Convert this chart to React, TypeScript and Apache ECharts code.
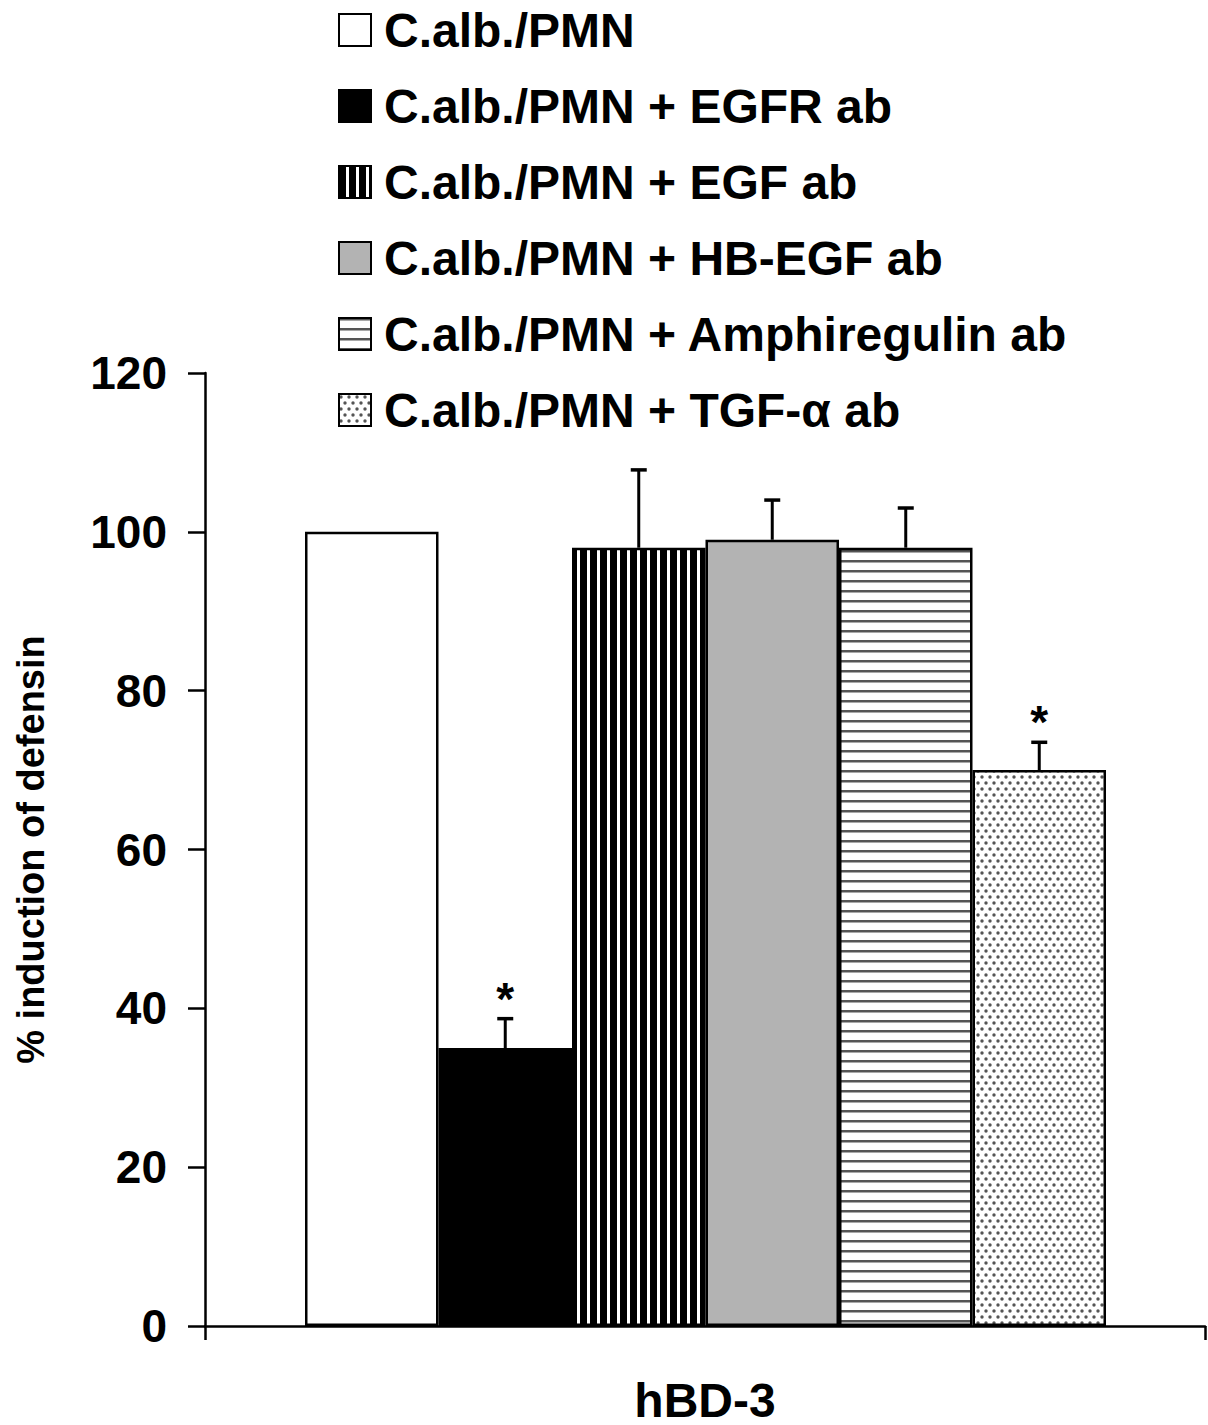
import React, { useEffect, useRef } from "react";
import * as echarts from "echarts";

const groupNames = [
  "C.alb./PMN",
  "C.alb./PMN + EGFR ab",
  "C.alb./PMN + EGF ab",
  "C.alb./PMN + HB-EGF ab",
  "C.alb./PMN + Amphiregulin ab",
  "C.alb./PMN + TGF-\u03b1 ab",
];
const categoryLabels = ["hBD-3"];
const meanValues = [100, 35, 98, 99, 98, 70];
const errorTops = [100, 38.7, 107.8, 104, 103, 73.5];
const significance = ["", "*", "", "", "", "*"];
const yTicks = { min: 0, max: 120, interval: 20 };
const yAxisTitle = "% induction of defensin";

const FONT = "'Liberation Sans', Arial, Helvetica, sans-serif";

function makePattern(w: number, h: number, draw: (ctx: CanvasRenderingContext2D) => void) {
  const c = document.createElement("canvas");
  c.width = w;
  c.height = h;
  const ctx = c.getContext("2d")!;
  ctx.fillStyle = "#ffffff";
  ctx.fillRect(0, 0, w, h);
  draw(ctx);
  return { image: c, repeat: "repeat", imageWidth: w, imageHeight: h } as any;
}

export default function App() {
  const ref = useRef<HTMLDivElement>(null);

  useEffect(() => {
    document.body.style.margin = "0";
    const chart = echarts.init(ref.current!, undefined, { renderer: "svg" });

    const vStripes = makePattern(10, 10, (ctx) => {
      ctx.fillStyle = "#000";
      ctx.fillRect(0, 0, 7, 10);
    });
    const hStripes = makePattern(10, 10, (ctx) => {
      ctx.fillStyle = "#555";
      ctx.fillRect(0, 0, 10, 2.5);
    });
    const dots = makePattern(8, 12, (ctx) => {
      ctx.fillStyle = "#555";
      ctx.beginPath();
      ctx.arc(2, 3, 1.7, 0, Math.PI * 2);
      ctx.fill();
      ctx.beginPath();
      ctx.arc(6, 9, 1.7, 0, Math.PI * 2);
      ctx.fill();
    });
    const fills: any[] = ["#ffffff", "#000000", vStripes, "#b3b3b3", hStripes, dots];

    const barSeries = groupNames.map((name, i) => ({
      name,
      type: "bar",
      xAxisIndex: 1,
      yAxisIndex: 1,
      stack: "all",
      barCategoryGap: 0,
      data: meanValues.map((v, j) => (j === i ? v : "-")),
      itemStyle: { color: fills[i], borderColor: "#000", borderWidth: 2.5 },
      emphasis: { disabled: true },
    }));

    const errorData = meanValues.map((v, i) => [i, v, errorTops[i]]);

    const option: any = {
      animation: false,
      backgroundColor: "#ffffff",
      textStyle: { fontFamily: FONT },
      legend: {
        orient: "vertical",
        left: 333,
        top: 1,
        itemWidth: 32,
        itemHeight: 32,
        itemGap: 28,
        icon: "rect",
        selectedMode: false,
        data: groupNames,
        textStyle: {
          fontFamily: FONT,
          fontSize: 48,
          fontWeight: "bold",
          color: "#000",
          lineHeight: 48,
          padding: [0, 0, 0, 8],
        },
      },
      grid: [
        { left: 205, right: 3, top: 373, bottom: 99 },
        { left: 305, right: 102, top: 373, bottom: 99 },
      ],
      xAxis: [
        {
          type: "category",
          gridIndex: 0,
          data: categoryLabels,
          axisLine: { lineStyle: { color: "#000", width: 2.5 } },
          axisTick: { show: true, length: 14, lineStyle: { color: "#000", width: 2.5 } },
          axisLabel: {
            fontFamily: FONT,
            fontSize: 48,
            fontWeight: "bold",
            color: "#000",
            margin: 50,
          },
        },
        {
          type: "category",
          gridIndex: 1,
          data: groupNames,
          show: false,
        },
      ],
      yAxis: [
        {
          type: "value",
          gridIndex: 0,
          min: yTicks.min,
          max: yTicks.max,
          interval: yTicks.interval,
          name: yAxisTitle,
          nameLocation: "middle",
          nameGap: 155,
          nameTextStyle: { fontFamily: FONT, fontSize: 38, fontWeight: "bold", color: "#000" },
          axisLine: { show: true, lineStyle: { color: "#000", width: 2.5 } },
          axisTick: { show: true, length: 17, lineStyle: { color: "#000", width: 2.5 } },
          axisLabel: {
            fontFamily: FONT,
            fontSize: 46,
            fontWeight: "bold",
            color: "#000",
            margin: 38,
          },
          splitLine: { show: false },
        },
        {
          type: "value",
          gridIndex: 1,
          min: yTicks.min,
          max: yTicks.max,
          interval: yTicks.interval,
          show: false,
          splitLine: { show: false },
        },
      ],
      series: [
        ...barSeries,
        {
          type: "custom",
          xAxisIndex: 1,
          yAxisIndex: 1,
          z: 10,
          silent: true,
          data: errorData,
          renderItem: (params: any, api: any) => {
            const i = api.value(0);
            const mean = api.value(1);
            const top = api.value(2);
            const base = api.coord([i, mean]);
            const tip = api.coord([i, top]);
            const children: any[] = [];
            if (top > mean) {
              children.push({
                type: "line",
                shape: { x1: base[0], y1: base[1], x2: tip[0], y2: tip[1] },
                style: { stroke: "#000", lineWidth: 3 },
              });
              children.push({
                type: "line",
                shape: { x1: tip[0] - 8, y1: tip[1], x2: tip[0] + 8, y2: tip[1] },
                style: { stroke: "#000", lineWidth: 3.5 },
              });
            }
            const sig = significance[params.dataIndex];
            if (sig) {
              children.push({
                type: "text",
                x: tip[0],
                y: tip[1] - 20,
                style: {
                  text: sig,
                  fontFamily: FONT,
                  fontSize: 46,
                  fontWeight: "bold",
                  fill: "#000",
                  align: "center",
                  verticalAlign: "middle",
                },
              });
            }
            return { type: "group", children };
          },
        },
      ],
    };

    chart.setOption(option);
    return () => chart.dispose();
  }, []);

  return <div ref={ref} style={{ width: 1208, height: 1425 }} />;
}
